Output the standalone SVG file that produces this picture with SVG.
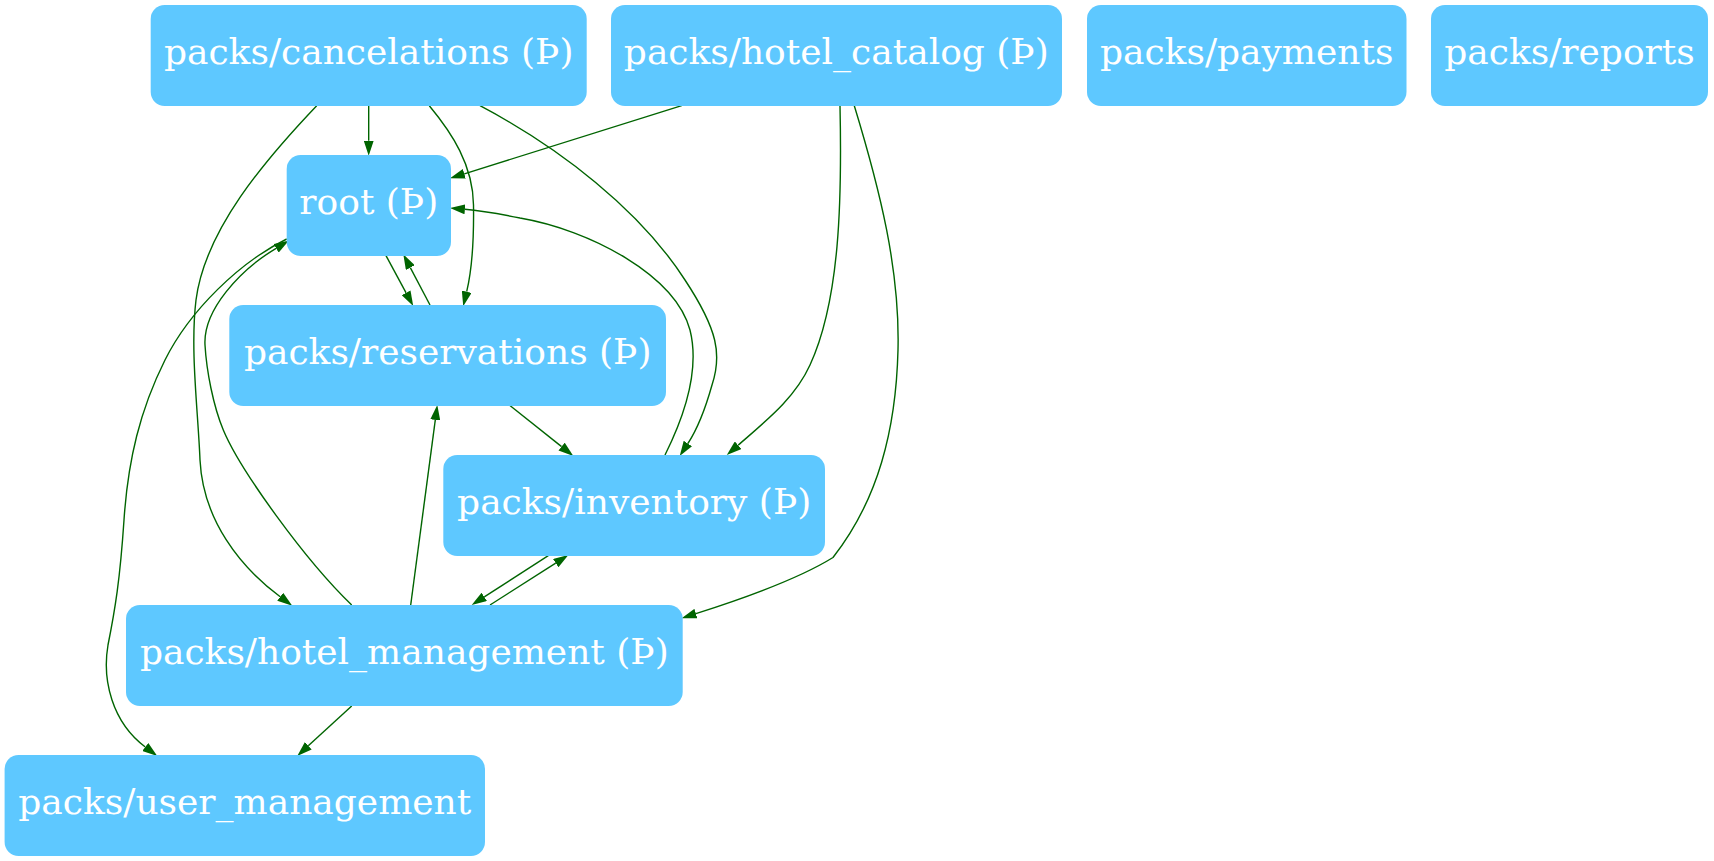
<svg xmlns="http://www.w3.org/2000/svg" width="1714" height="861" viewBox="0 0 1714 861">
<defs>
<style>
.node rect{fill:#5ec8ff;}
.node text{fill:#ffffff;font-family:"DejaVu Serif",serif;font-size:36px;text-anchor:middle;}
.edges path{fill:none;stroke:#006400;stroke-width:1.4;marker-end:url(#arr);}
</style>
<marker id="arr" markerUnits="userSpaceOnUse" viewBox="0 0 15 10" refX="0" refY="5" markerWidth="15" markerHeight="10" orient="auto">
<path d="M0,0 L15,5 L0,10 z" fill="#006400"/>
</marker>
</defs>
<rect width="1714" height="861" fill="#ffffff"/>
<g class="edges" id="edges">
<path d="M368.7,105.7 L368.7,140.7"/>
<path d="M429.3,105.7 C452,133 473,165 473.5,205 C474,240 471.5,271.5 466.7,291.7"/>
<path d="M480,105.7 C560,148 640,210 685,280 C718,330 722,355 712,385 C705,410 698,428 687.9,443.5"/>
<path d="M316.7,105.7 C265,160 205,230 196,300 C190,350 198,410 200,460 C203,520 240,567 280.2,596.8"/>
<path d="M681.7,105.7 L464.3,173.8"/>
<path d="M840,105.7 C842,200 840,300 810,365 C795,398 767,420 738.1,445.2"/>
<path d="M854.3,105.7 C880,190 900,270 898,350 C896,430 878,500 833,557.5 C800,578 745,598 695.9,613.6"/>
<path d="M386,255.7 L406.1,292.8"/>
<path d="M430,305 L410.3,267.6"/>
<path d="M509.3,405 L561.6,446.6"/>
<path d="M665,455 C685,415 700,370 690,330 C675,275 590,230 520,218 C500,214 485,211 464.9,209.3"/>
<path d="M548.3,555.7 L484.3,596.9"/>
<path d="M490,605 L555.7,563.1"/>
<path d="M410.7,605 L435.3,419.9"/>
<path d="M351.7,605 C305,560 240,470 223.3,430 C213.3,406 206.5,371 205,345 C203,310 240,270 276.1,248.3"/>
<path d="M286.7,239 C240,262 190,310 165,360 C140,410 128,460 124,520 C120,580 115,610 108,645 C102,680 112,722 145.3,747"/>
<path d="M351.7,706 L308.3,745.8"/>
</g>
<g class="node" id="node-cancelations"><rect x="150.7" y="5" width="436" height="101" rx="14"/><text x="368.7" y="63.5">packs/cancelations (Þ)</text></g>
<g class="node" id="node-hotel_catalog"><rect x="611" y="5" width="451" height="101" rx="14"/><text x="836.3" y="63.5">packs/hotel_catalog (Þ)</text></g>
<g class="node" id="node-payments"><rect x="1087" y="5" width="319.5" height="101" rx="14"/><text x="1246.7" y="63.5">packs/payments</text></g>
<g class="node" id="node-reports"><rect x="1431" y="5" width="277" height="101" rx="14"/><text x="1569.5" y="63.5">packs/reports</text></g>
<g class="node" id="node-root"><rect x="286.7" y="155" width="164.3" height="101" rx="14"/><text x="368.8" y="213.5">root (Þ)</text></g>
<g class="node" id="node-reservations"><rect x="229.3" y="305" width="436.7" height="101" rx="14"/><text x="447.7" y="363.5">packs/reservations (Þ)</text></g>
<g class="node" id="node-inventory"><rect x="443.3" y="455" width="381.7" height="101" rx="14"/><text x="634.2" y="513.5">packs/inventory (Þ)</text></g>
<g class="node" id="node-hotel_management"><rect x="126" y="605" width="556.7" height="101" rx="14"/><text x="404.3" y="663.5">packs/hotel_management (Þ)</text></g>
<g class="node" id="node-user_management"><rect x="4.6" y="755" width="480.4" height="101" rx="14"/><text x="244.8" y="813.5">packs/user_management</text></g>
</svg>
